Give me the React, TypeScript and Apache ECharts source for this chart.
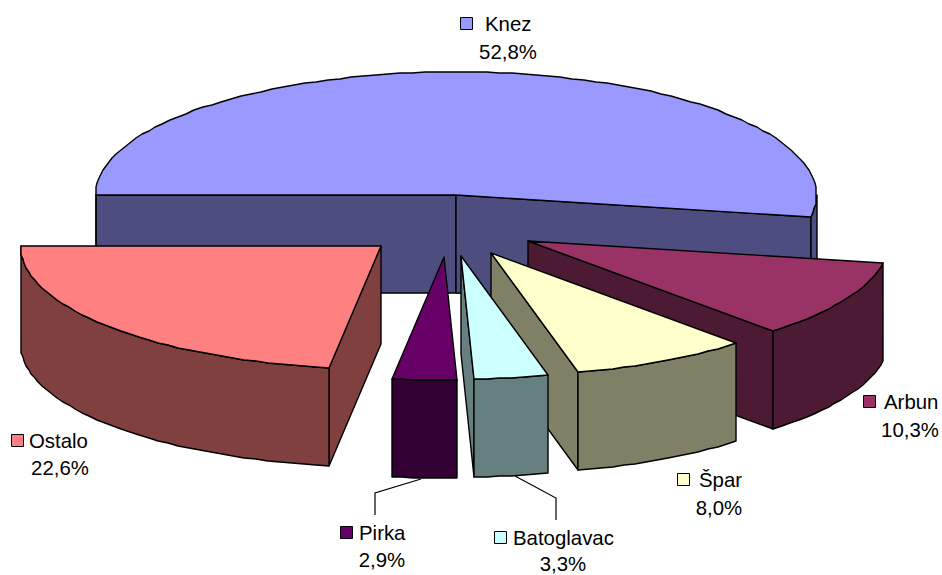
import React, { useEffect, useRef } from "react";
import * as echarts from "echarts";

const categories = ["Knez", "Arbun", "Špar", "Batoglavac", "Pirka", "Ostalo"];
const shares = [52.8, 10.3, 8.0, 3.3, 2.9, 22.6];
const topColors = ["#9999FF", "#993366", "#FFFFCC", "#CCFFFF", "#660066", "#FF8080"];
const sideColors = ["#4D4D80", "#4D1A33", "#808066", "#668080", "#330033", "#804040"];

// Layout of the projected pie (pixels)
const CX = 448.6;
const CY = 226;
const RX = 360.5;
const RY = 123;
const EXPLODE = 0.25;
const DEPTH = 98;
const FIRST_ANGLE = 269.8;
const STEP = 2;

const rad = (d: number) => (d * Math.PI) / 180;

function arcPoints(ax: number, ay: number, from: number, to: number, dy = 0) {
  const pts: number[][] = [];
  const n = Math.max(1, Math.ceil((to - from) / STEP));
  for (let i = 0; i <= n; i++) {
    const t = rad(from + ((to - from) * i) / n);
    pts.push([Math.round(ax + RX * Math.sin(t)), Math.round(ay - RY * Math.cos(t) + dy)]);
  }
  return pts;
}

function renderSlice(params: any, api: any) {
  const idx = params.dataIndex;
  const total = shares.reduce((a, b) => a + b, 0);
  const before = shares.slice(0, idx).reduce((a, b) => a + b, 0);
  const a1 = FIRST_ANGLE + (before / total) * 360;
  const a2 = a1 + (api.value(0) / total) * 360;
  const mid = rad((a1 + a2) / 2);
  const ax = Math.round(CX + EXPLODE * RX * Math.sin(mid));
  const ay = Math.round(CY - EXPLODE * RY * Math.cos(mid));
  const rim = arcPoints(ax, ay, a1, a2);
  const start = rim[0];
  const end = rim[rim.length - 1];
  const baseZ = Math.round(-Math.cos(mid) * 100) * 10 + 2000;
  const line = { stroke: "#000000", lineWidth: 1.4, lineJoin: "round" };
  const side = { fill: sideColors[idx], ...line };
  const children: any[] = [];
  const wall = (p: number[], q: number[]) => ({
    type: "polygon",
    z2: baseZ,
    silent: true,
    shape: { points: [p, q, [q[0], q[1] + DEPTH], [p[0], p[1] + DEPTH]] },
    style: side,
  });
  if (start[0] < ax) children.push(wall([ax, ay], start));
  if (end[0] > ax) children.push(wall(end, [ax, ay]));
  // outer wall: only the part of the rim facing the viewer (90..270 degrees, modulo 360)
  for (const k of [0, 360]) {
    const from = Math.max(a1, 90 + k);
    const to = Math.min(a2, 270 + k);
    if (to > from) {
      const upper = arcPoints(ax, ay, from, to);
      const lower = arcPoints(ax, ay, from, to, DEPTH).reverse();
      children.push({
        type: "polygon",
        z2: baseZ + 1,
        silent: true,
        shape: { points: [...upper, ...lower] },
        style: side,
      });
    }
  }
  children.push({
    type: "polygon",
    z2: baseZ + 2,
    silent: true,
    shape: { points: [[ax, ay], ...rim] },
    style: { fill: topColors[idx], ...line },
  });
  return { type: "group", children };
}

const FONT = '20.4px "Liberation Sans", Arial, sans-serif';
const pct = (v: number) => v.toFixed(1).replace(".", ",") + "%";

// x of key, x of name, y of name line, x centre of percent, y of percent line
const labelSpots = [
  [460, 485, 24, 508, 52],
  [863, 884, 402, 910, 430],
  [677, 699, 480, 719, 508],
  [494, 513, 538, 563, 564],
  [340, 359, 533, 382, 560],
  [11, 29, 441, 60, 468],
];
const leaderLines = [
  [[421, 479], [375, 493], [375, 515]],
  [[515, 476], [556, 498], [556, 520]],
];

const labelGraphics: any[] = [];
categories.forEach((name, i) => {
  const [kx, nx, ny, px, py] = labelSpots[i];
  labelGraphics.push(
    {
      type: "rect",
      shape: { x: kx + 0.5, y: ny - 6.5, width: 12, height: 12 },
      style: { fill: topColors[i], stroke: "#000000", lineWidth: 1 },
      silent: true,
    },
    {
      type: "text",
      x: nx,
      y: ny,
      silent: true,
      style: { text: name, font: FONT, fill: "#000000", align: "left", verticalAlign: "middle" },
    },
    {
      type: "text",
      x: px,
      y: py,
      silent: true,
      style: { text: pct(shares[i]), font: FONT, fill: "#000000", align: "center", verticalAlign: "middle" },
    }
  );
});
leaderLines.forEach((points) => {
  labelGraphics.push({
    type: "polyline",
    silent: true,
    shape: { points },
    style: { stroke: "#000000", lineWidth: 1.2, fill: "none" },
  });
});

export default function App() {
  const ref = useRef<HTMLDivElement>(null);
  useEffect(() => {
    const chart = echarts.init(ref.current!, undefined, { renderer: "svg" });
    chart.setOption({
      animation: false,
      backgroundColor: "#FFFFFF",
      graphic: { elements: labelGraphics },
      series: [
        {
          type: "custom",
          coordinateSystem: "none",
          silent: true,
          renderItem: renderSlice,
          data: shares.map((v, i) => ({ name: categories[i], value: [v] })),
        },
      ],
    });
    return () => chart.dispose();
  }, []);
  return <div ref={ref} style={{ position: "absolute", left: 0, top: 0, width: 942, height: 575 }} />;
}
